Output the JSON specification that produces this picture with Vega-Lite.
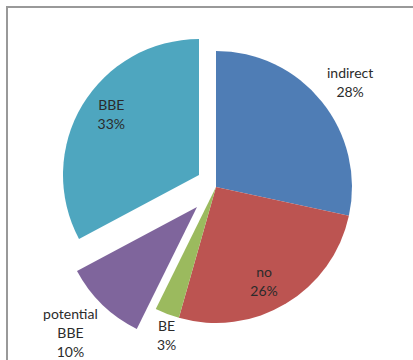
{
  "$schema": "https://vega.github.io/schema/vega-lite/v6.json",
  "width": 418,
  "height": 360,
  "autosize": {"type": "none"},
  "padding": {"left": 7, "top": 7, "right": -12, "bottom": -7},
  "background": "white",
  "view": {"stroke": "#999999", "strokeWidth": 2},
  "data": {"values": [
    {"category": "indirect", "value": 28.4, "order": 1, "label": "indirect\n28%"},
    {"category": "no", "value": 26.0, "order": 2, "label": "no\n26%"},
    {"category": "BE", "value": 2.9, "order": 3, "label": "BE\n3%"},
    {"category": "potential BBE", "value": 9.9, "order": 4, "label": "potential\nBBE\n10%"},
    {"category": "BBE", "value": 32.8, "order": 5, "label": "BBE\n33%"}
  ]},
  "transform": [
    {"stack": "value", "groupby": [], "sort": [{"field": "order"}], "as": ["v0", "v1"]}
  ],
  "layer": [
    {
      "transform": [{"filter": {"field": "category", "oneOf": ["indirect", "no", "BE"]}}],
      "mark": {"type": "arc", "outerRadius": 136},
      "encoding": {
        "theta": {"field": "v0", "type": "quantitative", "scale": {"domain": [0, 100]}},
        "theta2": {"field": "v1"},
        "color": {"field": "category", "type": "nominal", "legend": null,
          "scale": {"domain": ["indirect", "no", "BE", "potential BBE", "BBE"],
                    "range": ["#4F7DB5", "#BC5451", "#9BBA5E", "#7F659C", "#4EA6BF"]}}
      }
    },
    {
      "transform": [{"filter": {"field": "category", "equal": "BBE"}}],
      "mark": {"type": "arc", "outerRadius": 136, "xOffset": -17, "yOffset": -12},
      "encoding": {
        "theta": {"field": "v0", "type": "quantitative", "scale": {"domain": [0, 100]}},
        "theta2": {"field": "v1"},
        "color": {"field": "category", "type": "nominal", "legend": null}
      }
    },
    {
      "transform": [{"filter": {"field": "category", "equal": "potential BBE"}}],
      "mark": {"type": "arc", "outerRadius": 136, "xOffset": -19, "yOffset": 20},
      "encoding": {
        "theta": {"field": "v0", "type": "quantitative", "scale": {"domain": [0, 100]}},
        "theta2": {"field": "v1"},
        "color": {"field": "category", "type": "nominal", "legend": null}
      }
    },
    {
      "mark": {"type": "text", "radius": 171, "dx": 1, "dy": -6, "font": "Lato", "fontSize": 14, "lineBreak": "\n", "lineHeight": 19, "fill": "#2b2b2b", "align": "center", "baseline": "middle"},
      "encoding": {
        "theta": {"field": "value", "type": "quantitative", "stack": true, "scale": {"domain": [0, 100]}},
        "order": {"field": "order", "type": "quantitative"},
        "text": {"condition": {"test": "datum.category === 'indirect'", "field": "label"}, "value": ""}
      }
    },
    {
      "mark": {"type": "text", "radius": 105, "dx": -6, "dy": -4, "font": "Lato", "fontSize": 14, "lineBreak": "\n", "lineHeight": 19, "fill": "#2b2b2b", "align": "center", "baseline": "middle"},
      "encoding": {
        "theta": {"field": "value", "type": "quantitative", "stack": true, "scale": {"domain": [0, 100]}},
        "order": {"field": "order", "type": "quantitative"},
        "text": {"condition": {"test": "datum.category === 'no'", "field": "label"}, "value": ""}
      }
    },
    {
      "mark": {"type": "text", "radius": 157, "dx": 7, "dy": -7, "font": "Lato", "fontSize": 14, "lineBreak": "\n", "lineHeight": 19, "fill": "#2b2b2b", "align": "center", "baseline": "middle"},
      "encoding": {
        "theta": {"field": "value", "type": "quantitative", "stack": true, "scale": {"domain": [0, 100]}},
        "order": {"field": "order", "type": "quantitative"},
        "text": {"condition": {"test": "datum.category === 'BE'", "field": "label"}, "value": ""}
      }
    },
    {
      "mark": {"type": "text", "radius": 179, "xOffset": -19, "yOffset": 20, "dx": -2, "dy": -21, "font": "Lato", "fontSize": 14, "lineBreak": "\n", "lineHeight": 19, "fill": "#2b2b2b", "align": "center", "baseline": "middle"},
      "encoding": {
        "theta": {"field": "value", "type": "quantitative", "stack": true, "scale": {"domain": [0, 100]}},
        "order": {"field": "order", "type": "quantitative"},
        "text": {"condition": {"test": "datum.category === 'potential BBE'", "field": "label"}, "value": ""}
      }
    },
    {
      "mark": {"type": "text", "radius": 107, "xOffset": -17, "yOffset": -12, "dx": 4, "dy": -14, "font": "Lato", "fontSize": 14, "lineBreak": "\n", "lineHeight": 19, "fill": "#2b2b2b", "align": "center", "baseline": "middle"},
      "encoding": {
        "theta": {"field": "value", "type": "quantitative", "stack": true, "scale": {"domain": [0, 100]}},
        "order": {"field": "order", "type": "quantitative"},
        "text": {"condition": {"test": "datum.category === 'BBE'", "field": "label"}, "value": ""}
      }
    }
  ]
}
